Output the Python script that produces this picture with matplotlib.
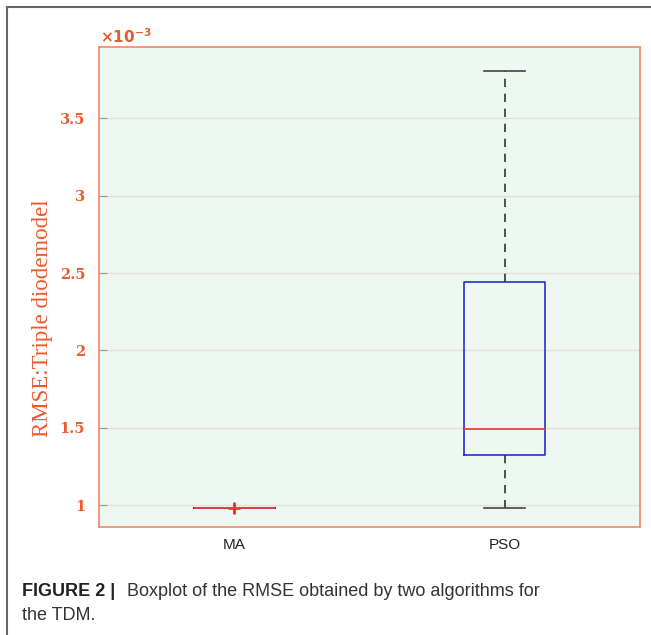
import matplotlib.pyplot as plt
from matplotlib.lines import Line2D

# boxplot stats (units of 1e-3)
algos = ["MA", "PSO"]
whis_low = [0.980, 0.985]
q1 = [0.980, 1.325]
medians = [0.980, 1.492]
q3 = [0.980, 2.442]
whis_high = [0.980, 3.805]
outliers = [[0.980], []]

yticks = [1, 1.5, 2, 2.5, 3, 3.5]

orange = "#ec5a2c"

fig = plt.figure(figsize=(6.51, 6.35), dpi=100)
ax = fig.add_axes([99 / 651, 1 - 527 / 635, 541 / 651, 480 / 635])
ax.set_facecolor("#eef8f3")

stats = []
for i in range(len(algos)):
    stats.append(dict(label=algos[i], whislo=whis_low[i], q1=q1[i], med=medians[i],
                      q3=q3[i], whishi=whis_high[i], fliers=outliers[i]))

ax.bxp(stats, positions=[1, 2], widths=0.3,
       boxprops=dict(color="#2a2ad8", linewidth=1.2),
       medianprops=dict(color="#f04040", linewidth=1.3),
       whiskerprops=dict(color="#333333", linestyle=(0, (5, 4)), linewidth=1.2),
       capprops=dict(color="#444444", linewidth=1.2),
       flierprops=dict(marker="+", markeredgecolor="#ee1111", markersize=8, markeredgewidth=1.8))

ax.set_xlim(0.5, 2.5)
ax.set_ylim(0.86, 3.96)
ax.set_yticks(yticks)
ax.set_yticklabels(["1", "1.5", "2", "2.5", "3", "3.5"], fontfamily="DejaVu Serif",
                   fontweight="bold", color=orange, fontsize=10.5)
ax.set_xticklabels(algos, fontfamily="Liberation Sans", fontsize=11, color="#222222")
ax.tick_params(axis="x", length=0, pad=8)
ax.tick_params(axis="y", direction="in", length=6, color="#999999", pad=10)
ax.yaxis.grid(True, color="#e8dcd6", linewidth=1.0)
ax.set_axisbelow(True)
for s in ax.spines.values():
    s.set_color("#f08a60")
    s.set_linewidth(1.2)

fig.text(43 / 651, 1 - 318 / 635, "RMSE:Triple diodemodel", fontfamily="Liberation Serif",
         color=orange, fontsize=16.5, rotation=90, ha="center", va="center")
fig.text(100 / 651, 1 - 37 / 635, r"$\mathbf{\times 10^{-3}}$", color=orange,
         fontsize=11, ha="left", va="center", fontfamily="DejaVu Serif")

# outer frame of the figure panel
fig.add_artist(Line2D([7 / 651, 1], [1 - 7 / 635, 1 - 7 / 635], color="#666666", linewidth=1.5))
fig.add_artist(Line2D([7 / 651, 7 / 651], [0, 1 - 7 / 635], color="#666666", linewidth=1.5))

# caption
fig.text(22 / 651, 1 - 591 / 635, "FIGURE 2 |", fontfamily="Liberation Sans",
         fontweight="bold", fontsize=13, va="center", color="#222222")
fig.text(127 / 651, 1 - 591 / 635, "Boxplot of the RMSE obtained by two algorithms for",
         fontfamily="Liberation Sans", fontsize=13, va="center", color="#333333")
fig.text(22 / 651, 1 - 615 / 635, "the TDM.", fontfamily="Liberation Sans",
         fontsize=13, va="center", color="#333333")

fig.savefig("out.png", dpi=100)
